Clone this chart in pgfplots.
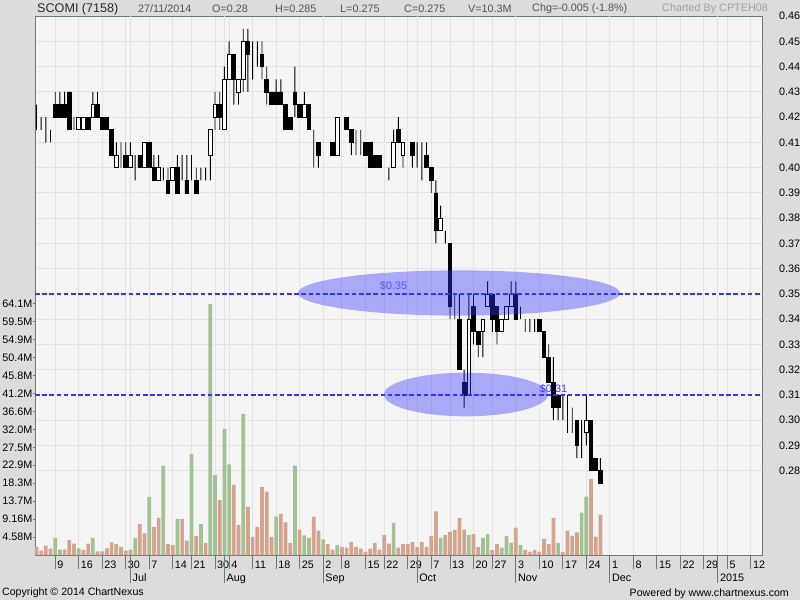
\documentclass[border=0pt]{standalone}
\usepackage{fontspec}
\setmainfont{Liberation Sans}
\usepackage{pgfplots}
\pgfplotsset{compat=1.18}
\usepackage{pgfplotstable}

\definecolor{outerbg}{HTML}{DCDCDC}
\definecolor{plotbg}{HTML}{F5F5F5}
\definecolor{gridc}{HTML}{E3E3E3}
\definecolor{framec}{HTML}{6F7878}
\definecolor{volg}{HTML}{A3C194}
\definecolor{volp}{HTML}{D3A591}
\definecolor{ellc}{rgb}{0.2,0.2,1}
\definecolor{linec}{HTML}{3535F5}
\definecolor{hdr}{HTML}{2A2A2A}
\definecolor{hdrs}{HTML}{555555}
\definecolor{hdrl}{HTML}{A0A0A0}

% j = trading-day index (0 = 3 Jun 2014), O H L C, V in millions, up = green volume bar
\pgfplotstableread{
j O H L C V up
0 0.42 0.425 0.415 0.42 2.1 0
1 0.415 0.42 0.415 0.415 1.1 0
2 0.415 0.42 0.41 0.415 2.4 0
3 0.415 0.415 0.41 0.415 1.6 0
4 0.425 0.43 0.42 0.42 4.4 1
5 0.425 0.43 0.42 0.42 1.4 1
6 0.425 0.43 0.42 0.42 1.4 0
7 0.43 0.43 0.415 0.415 3.8 0
8 0.415 0.42 0.415 0.415 2.9 0
9 0.415 0.42 0.415 0.42 1.7 1
10 0.415 0.42 0.415 0.42 1.3 0
11 0.42 0.42 0.415 0.415 2.9 0
12 0.42 0.43 0.42 0.425 4.4 1
13 0.425 0.43 0.42 0.42 0.9 0
14 0.42 0.42 0.415 0.415 0.9 0
15 0.42 0.42 0.415 0.415 1.7 0
16 0.415 0.415 0.405 0.405 3.2 0
17 0.40 0.41 0.40 0.405 2.8 0
18 0.405 0.41 0.40 0.405 2.1 0
19 0.405 0.41 0.40 0.40 1.1 0
20 0.40 0.41 0.40 0.405 1.4 0
21 0.405 0.405 0.395 0.405 4.4 1
22 0.405 0.405 0.40 0.40 7.9 0
23 0.40 0.41 0.40 0.41 5.5 0
24 0.41 0.41 0.40 0.40 14.8 1
25 0.40 0.405 0.395 0.395 7.2 0
26 0.395 0.405 0.395 0.40 9.5 0
27 0.395 0.40 0.395 0.395 22.8 1
28 0.395 0.40 0.39 0.39 2.8 0
29 0.395 0.40 0.395 0.40 2.5 0
30 0.40 0.405 0.39 0.39 9.2 1
31 0.395 0.405 0.395 0.395 9.2 0
32 0.395 0.405 0.39 0.39 3.7 0
33 0.395 0.405 0.395 0.395 25.8 1
34 0.395 0.40 0.39 0.39 4.9 0
35 0.395 0.40 0.395 0.395 7.9 1
36 0.395 0.40 0.395 0.395 3.1 0
37 0.405 0.415 0.395 0.415 64.0 1
38 0.42 0.43 0.415 0.425 20.4 1
39 0.425 0.43 0.415 0.42 14.0 0
40 0.415 0.44 0.415 0.435 32.2 1
41 0.435 0.45 0.435 0.445 23.1 1
42 0.445 0.445 0.425 0.435 17.9 0
43 0.43 0.435 0.425 0.435 7.6 0
44 0.435 0.455 0.43 0.45 36.0 1
45 0.45 0.455 0.43 0.445 12.3 0
46 0.445 0.45 0.435 0.445 4.6 0
47 0.445 0.45 0.44 0.445 7.2 0
48 0.445 0.45 0.435 0.44 17.3 0
49 0.435 0.44 0.425 0.43 16.2 0
50 0.43 0.43 0.425 0.425 4.6 0
51 0.43 0.435 0.425 0.425 9.8 1
52 0.43 0.435 0.425 0.425 10.5 0
53 0.425 0.425 0.415 0.415 8.3 0
54 0.42 0.42 0.415 0.415 3.1 0
55 0.43 0.44 0.42 0.425 22.8 1
56 0.425 0.425 0.42 0.42 6.5 0
57 0.42 0.43 0.42 0.425 5.0 1
58 0.425 0.425 0.415 0.415 4.4 1
59 0.415 0.415 0.40 0.415 9.8 0
60 0.41 0.41 0.40 0.405 6.2 0
61 0.41 0.41 0.41 0.41 4.0 1
62 0.41 0.41 0.41 0.41 2.8 0
63 0.41 0.41 0.405 0.405 1.4 0
64 0.405 0.42 0.405 0.42 2.5 1
65 0.42 0.42 0.42 0.42 2.1 0
66 0.42 0.42 0.415 0.415 1.9 0
67 0.415 0.415 0.405 0.41 3.3 0
68 0.41 0.415 0.405 0.41 2.1 0
69 0.41 0.415 0.405 0.41 1.6 0
70 0.41 0.41 0.405 0.405 0.8 0
71 0.41 0.41 0.40 0.40 1.6 0
72 0.405 0.405 0.40 0.40 3.1 0
73 0.405 0.405 0.40 0.40 1.4 0
74 0.40 0.40 0.40 0.40 5.1 0
75 0.40 0.40 0.395 0.40 2.9 0
76 0.40 0.415 0.40 0.41 8.2 1
77 0.415 0.42 0.41 0.41 1.9 0
78 0.405 0.41 0.40 0.41 2.8 0
79 0.41 0.41 0.41 0.41 2.8 0
80 0.41 0.41 0.40 0.405 3.3 0
81 0.405 0.41 0.40 0.405 2.0 0
82 0.405 0.41 0.395 0.405 3.3 0
83 0.405 0.41 0.40 0.40 2.1 0
84 0.40 0.40 0.39 0.395 4.8 0
85 0.39 0.395 0.37 0.375 11.1 0
86 0.375 0.385 0.375 0.38 4.4 1
87 0.37 0.375 0.37 0.37 5.1 0
88 0.37 0.37 0.34 0.345 5.9 0
89 0.35 0.35 0.34 0.35 6.4 0
90 0.34 0.35 0.32 0.32 9.5 0
91 0.315 0.32 0.305 0.31 6.5 0
92 0.31 0.35 0.31 0.34 5.1 1
93 0.345 0.35 0.33 0.335 5.3 0
94 0.335 0.335 0.325 0.33 2.0 0
95 0.335 0.34 0.325 0.34 4.4 1
96 0.345 0.355 0.345 0.35 5.3 1
97 0.35 0.35 0.335 0.34 1.3 0
98 0.345 0.345 0.33 0.335 2.8 0
99 0.335 0.34 0.335 0.34 1.9 1
100 0.34 0.345 0.34 0.345 4.8 1
101 0.345 0.355 0.345 0.35 3.1 1
102 0.35 0.355 0.34 0.34 7.0 0
103 0.34 0.345 0.34 0.34 2.5 1
104 0.34 0.34 0.335 0.34 1.3 0
105 0.34 0.34 0.335 0.34 0.8 0
106 0.34 0.34 0.335 0.34 1.3 0
107 0.34 0.34 0.335 0.335 0.8 0
108 0.335 0.335 0.325 0.325 4.1 0
109 0.325 0.33 0.315 0.315 2.8 0
110 0.315 0.325 0.30 0.305 9.5 0
111 0.31 0.31 0.30 0.305 3.1 1
112 0.31 0.31 0.30 0.31 0.8 0
113 0.30 0.31 0.295 0.30 6.2 0
114 0.30 0.305 0.295 0.30 4.9 0
115 0.30 0.30 0.285 0.29 5.8 0
116 0.295 0.30 0.285 0.295 10.8 1
117 0.295 0.31 0.29 0.30 14.9 1
118 0.30 0.30 0.28 0.28 19.4 0
119 0.285 0.285 0.28 0.28 4.7 0
120 0.28 0.285 0.275 0.275 10.3 0
}\stock

\pgfplotsset{
  cax/.style={width=727pt, height=538.75pt, scale only axis,
    at={(35pt,45pt)}, anchor=south west,
    xmin=-0.3, xmax=154.38, enlargelimits=false},
  pax/.style={cax, ymin=0.24663, ymax=0.46},
  tl/.style={font=\fontsize{10.8}{12}\selectfont, text=black}
}

\begin{document}
\begin{tikzpicture}[x=1pt,y=1pt]
\fill[outerbg] (0,0) rectangle (800,600);
\useasboundingbox (0,0) rectangle (800,600);

% price frame, grid, ticks and wicks
\begin{axis}[pax,
  axis background/.style={fill=plotbg},
  axis line style={draw=framec, line width=1pt},
  /pgf/number format/assume math mode=true,
  tick label style={tl},
  ytick={0.28,0.29,0.30,0.31,0.32,0.33,0.34,0.35,0.36,0.37,0.38,0.39,0.40,0.41,0.42,0.43,0.44,0.45,0.46},
  yticklabels={0.28,0.29,0.30,0.31,0.32,0.33,0.34,0.35,0.36,0.37,0.38,0.39,0.40,0.41,0.42,0.43,0.44,0.45,0.46},
  ytick pos=right, yticklabel pos=right,
  ytick style={draw=none},
  yticklabel style={anchor=west, inner sep=0pt, xshift=3pt},
  xmajorgrids, ymajorgrids,
  grid style={draw=gridc, line width=1pt},
  xtick={4,9,14,19,24,29,33,38,41,46,51,56,61,65,70,74,79,84,88,93,97,102,107,112,117,122,127,132,137,142,147,152},
  xticklabels={9,16,23,30,7,14,21,30,4,11,18,25,2,8,15,22,29,7,13,20,27,3,10,17,24,1,8,15,22,29,5,12},
  xtick pos=left, xticklabel pos=left,
  tick align=outside,
  major tick length=14pt,
  xtick style={draw=framec, line width=1pt},
  xticklabel style={anchor=north west, inner sep=0pt, xshift=2pt, yshift=8pt},
  extra x ticks={20,40,61,81,102,122,145},
  extra x tick labels={Jul,Aug,Sep,Oct,Nov,Dec,2015},
  extra x tick style={major tick length=28pt, grid=major,
    xticklabel style={yshift=1.5pt}},
  ybar stacked, bar width=0.9pt,
]
\addplot[draw=none, fill=none] table[x=j, y=L] {\stock};
\addplot[draw=none, fill=black] table[x=j, y expr=\thisrow{H}-\thisrow{L}] {\stock};
\end{axis}

% volume
\begin{axis}[cax, ymin=0, ymax=137.46,
  axis line style={draw=none},
  xtick=\empty,
  ytick={4.58,9.16,13.74,18.32,22.9,27.48,32.06,36.64,41.22,45.8,50.38,54.96,59.54,64.12},
  yticklabels={4.58M,9.16M,13.7M,18.3M,22.9M,27.5M,32.0M,36.6M,41.2M,45.8M,50.4M,54.9M,59.5M,64.1M},
  ytick pos=left, yticklabel pos=left,
  tick align=outside, major tick length=2.5pt,
  ytick style={draw=framec, line width=0.8pt},
  tick label style={tl},
  yticklabel style={anchor=east, inner sep=0pt, xshift=0pt},
  ybar, bar width=3.7pt,
]
\addplot[fill=volg, draw=none, bar shift=0pt] table[x=j, y expr=\thisrow{V}*\thisrow{up}] {\stock};
\addplot[fill=volp, draw=none, bar shift=0pt] table[x=j, y expr=\thisrow{V}*(1-\thisrow{up})] {\stock};
\end{axis}

% candle bodies
\begin{axis}[pax, hide axis, ybar stacked, bar width=3.7pt]
\addplot[draw=none, fill=none] table[x=j, y expr={min(\thisrow{O},\thisrow{C})}] {\stock};
\addplot[fill=black, draw=black, line width=0.8pt] table[x=j, y expr={max(\thisrow{O}-\thisrow{C},0)}] {\stock};
\addplot[fill=white, draw=black, line width=0.8pt] table[x=j, y expr={max(\thisrow{C}-\thisrow{O},0)}] {\stock};
\end{axis}

% annotations
\begin{axis}[pax, hide axis]
\fill[ellc, opacity=0.39] (axis cs:89.9,0.3504) ellipse [x radius=34.25, y radius=0.00896];
\fill[ellc, opacity=0.39] (axis cs:91.4,0.3102) ellipse [x radius=17.45, y radius=0.00864];
\addplot[draw=linec, color=linec, line width=1.5pt, dash pattern=on 4.5pt off 2.7pt] coordinates {(-0.3,0.35) (154.38,0.35)};
\addplot[draw=linec, color=linec, line width=1.5pt, dash pattern=on 4.5pt off 2.7pt] coordinates {(-0.3,0.31) (154.38,0.31)};
\node[anchor=west, inner sep=0pt, text=linec!85!white, font=\fontsize{10.8}{12}\selectfont] at (axis cs:73.1,0.3533) {\$0.35};
\node[anchor=west, inner sep=0pt, text=linec, font=\fontsize{10.8}{12}\selectfont] at (axis cs:107.1,0.3124) {\$0.31};
\end{axis}

% header and footer
\node[anchor=west, inner sep=0pt, text=hdr, font=\fontsize{12.6}{14}\selectfont] at (37,591) {SCOMI (7158)};
\begin{scope}[every node/.style={anchor=west, inner sep=0pt, text=hdrs, font=\fontsize{10.8}{12}\selectfont}]
\node at (138,591) {27/11/2014};
\node at (212,591) {O=0.28};
\node at (275,591) {H=0.285};
\node at (340,591) {L=0.275};
\node at (404,591) {C=0.275};
\node at (468,591) {V=10.3M};
\node at (532,591) {Chg=-0.005 (-1.8\%)};
\node[text=hdrl] at (662,591) {Charted By CPTEH08};
\end{scope}
\node[anchor=west, inner sep=0pt, text=black, font=\fontsize{10.6}{12}\selectfont] at (2,7) {Copyright © 2014 ChartNexus};
\node[anchor=east, inner sep=0pt, text=black, font=\fontsize{10.6}{12}\selectfont] at (789,6) {Powered by www.chartnexus.com};
\end{tikzpicture}
\end{document}
